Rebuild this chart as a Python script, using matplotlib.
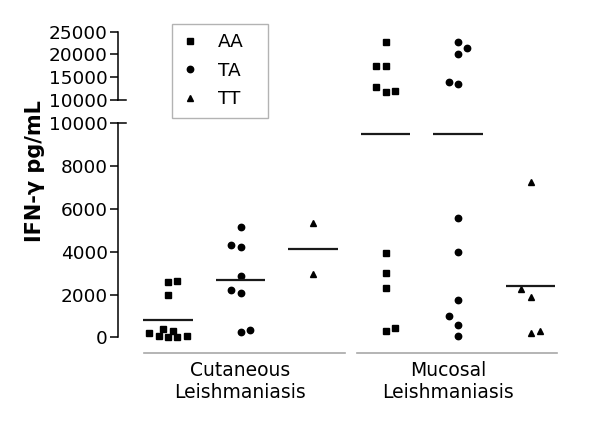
import matplotlib
matplotlib.use("Agg")
import matplotlib.pyplot as plt
from matplotlib.lines import Line2D
from matplotlib.transforms import blended_transform_factory
import numpy as np

plt.rcParams['font.family'] = ['DejaVu Sans']

# ---------------- data ----------------
groups = ["Cutaneous\nLeishmaniasis", "Mucosal\nLeishmaniasis"]
genotypes = ["AA", "TA", "TT"]

cl_aa = [2590, 2630, 1960, 187, 61, 402, 28, 295, 28, 75]
cl_ta = [5170, 4300, 4220, 2870, 2230, 2060, 260, 330]
cl_tt = [5330, 2960]
ml_aa = [22800, 17530, 17530, 12930, 11830, 11980, 3960, 3020, 2290, 310, 420]
ml_ta = [22700, 21450, 20030, 14020, 13580, 5570, 3990, 1745, 980, 560, 75]
ml_tt = [7280, 2270, 1870, 215, 280]

# horizontal scatter slot of each point (layout, in marker slots)
cl_aa_slot = [0, 1, 0, -2, -1, -0.5, 0, 0.5, 1, 2]
cl_ta_slot = [0, -1, 0, 0, -1, 0, 0, 1]
cl_tt_slot = [0, 0]
ml_aa_slot = [0, -1, 0, -1, 0, 1, 0, 0, 0, 0, 1]
ml_ta_slot = [0, 1, 0, -1, 0, 0, 0, 0, -1, 0, 0]
ml_tt_slot = [0, -1, 0, 0, 1]

low_ticks = [0, 2000, 4000, 6000, 8000, 10000]
high_ticks = [10000, 15000, 20000, 25000]
break_value = 10000

series = [cl_aa, cl_ta, cl_tt, ml_aa, ml_ta, ml_tt]
slots = [cl_aa_slot, cl_ta_slot, cl_tt_slot, ml_aa_slot, ml_ta_slot, ml_tt_slot]
markers = {"AA": ("s", 4.3), "TA": ("o", 4.6), "TT": ("^", 4.8)}

# ---------------- layout ----------------
W, H = 600, 425
fig = plt.figure(figsize=(6, 4.25), dpi=100)
left = 118 / W
width = 462 / W
ax_lo = fig.add_axes([left, (H - 337.3) / H, width, 214 / H])
ax_hi = fig.add_axes([left, (H - 100) / H, width, 68.3 / H])

slot_w = 9.3 / 72.5
xlim = (-50 / 72.5, 5 + 49.5 / 72.5)
fs = 13.3
lw = 1.1

for ax, lim, ticks in [(ax_lo, (0, break_value), low_ticks),
                       (ax_hi, (break_value, 25000), high_ticks)]:
    ax.set_xlim(*xlim)
    ax.set_ylim(*lim)
    ax.set_yticks(ticks)
    ax.set_yticklabels([str(t) for t in ticks])
    for s in ["top", "right", "bottom"]:
        ax.spines[s].set_visible(False)
    ax.spines["left"].set_linewidth(lw)
    ax.tick_params(axis="y", direction="out", length=6, width=lw,
                   labelsize=fs, pad=1.5)
    ax.set_xticks([])
    ax.patch.set_alpha(0)
    # break tick extends to the right
    tr = blended_transform_factory(ax.transAxes, ax.transData)
    ax.add_line(Line2D([0, 8 / 462], [break_value, break_value], transform=tr,
                       color="black", lw=lw, clip_on=False))

for i, (vals, sl) in enumerate(zip(series, slots)):
    g = genotypes[i % 3]
    mk, ms = markers[g]
    vals = np.array(vals, dtype=float)
    xs = i + np.array(sl) * slot_w
    lo = vals <= break_value
    ax_lo.plot(xs[lo], vals[lo], ls="none", marker=mk, ms=ms, color="black",
               clip_on=False)
    ax_hi.plot(xs[~lo], vals[~lo], ls="none", marker=mk, ms=ms, color="black",
               clip_on=False)
    m = vals.mean()
    ax_lo.hlines(m, i - 0.338, i + 0.338, color="#1a1a1a", lw=1.6)

# group underlines and labels
tr = blended_transform_factory(ax_lo.transData, ax_lo.transAxes)
yline = -(353 - 337.3) / 214
for (x0, x1) in [(-0.331, 2.441), (2.607, 5.366)]:
    ax_lo.add_line(Line2D([x0, x1], [yline, yline], transform=tr,
                          color="#a8a8a8", lw=1.2, clip_on=False))
label_x = [1.0, 3.862]
ylab = -(381.5 - 337.3) / 214
for gx, name in zip(label_x, groups):
    ax_lo.text(gx, ylab, name, transform=tr, ha="center", va="center",
               fontsize=13.5, linespacing=1.15)

fig.text(35 / W, 1 - 171 / H, "IFN-γ pg/mL", rotation=90, ha="center",
         va="center", fontsize=15, fontweight="bold")

handles = [Line2D([], [], ls="none", marker=markers[g][0], ms=markers[g][1],
                  color="black") for g in genotypes]
leg = fig.legend(handles, genotypes, loc="upper left",
                 bbox_to_anchor=(172 / W, 1 - 28 / H, 96 / W, 0.01),
                 mode="expand", fontsize=fs, handlelength=1.0,
                 handletextpad=1.0, borderpad=0.5, labelspacing=0.58,
                 frameon=True, fancybox=False, borderaxespad=0)
leg.get_frame().set_edgecolor("#a0a0a0")
leg.get_frame().set_linewidth(1.0)

fig.savefig("out.png", dpi=100)
